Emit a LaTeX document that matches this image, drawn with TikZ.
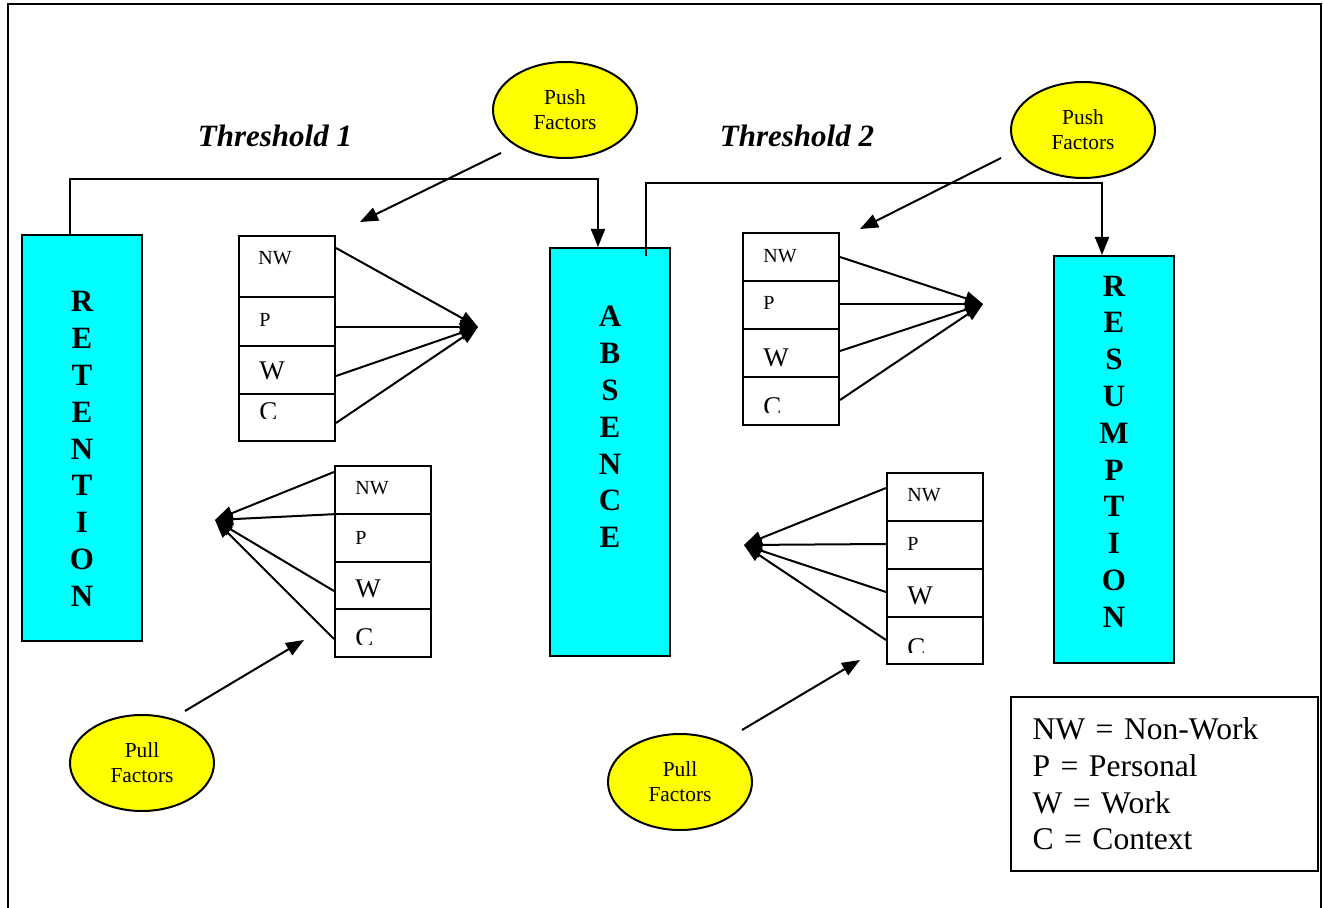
\documentclass[tikz,border=0pt]{standalone}
\usepackage{fontspec}
\setmainfont{Liberation Serif}
\usetikzlibrary{shapes.geometric,arrows.meta}
\definecolor{aqua}{RGB}{0,255,255}
\definecolor{pureyellow}{RGB}{255,255,0}
\begin{document}
\begin{tikzpicture}[x=0.5pt,y=-0.5pt,
  stage/.style={draw, fill=aqua, line width=1pt, minimum width=60pt, inner sep=0pt},
  letters/.style={align=center, inner sep=0pt, font=\bfseries\fontsize{15.5}{18.4}\selectfont},
  thr/.style={inner sep=0pt, font=\bfseries\itshape\fontsize{15.5}{18}\selectfont},
  factor/.style={ellipse, draw, fill=pureyellow, line width=1pt, minimum width=72pt, minimum height=48pt, inner sep=0pt, align=center, font=\fontsize{10.7}{12.5}\selectfont},
  cell/.style={draw, line width=1pt, minimum width=48pt, inner sep=0pt, anchor=north west},
  lab/.style={inner sep=0pt, anchor=west, font=\fontsize{10}{12}\selectfont},
  labbig/.style={inner sep=0pt, font=\fontsize{13.5}{15}\selectfont},
  conn/.style={line width=1pt, -{Triangle[length=9pt,width=7pt]}},
  conv/.style={line width=1pt, -{Triangle[length=9pt,width=7pt]}},
  legendbox/.style={draw, line width=1pt, minimum width=153.5pt, minimum height=87pt, text width=132pt, inner xsep=10.5pt, align=left, font=\fontsize{15.8}{18.3}\selectfont}
]
\useasboundingbox (0,0) rectangle (1323,908);
% frame
\draw[line width=1pt] (8,908) -- (8,4) -- (1321,4) -- (1321,908);

% thresholds
\node[thr] (th1) at (275,136) {Threshold 1};
\node[thr] (th2) at (797,136) {Threshold 2};

% stages
\node[stage, minimum height=203pt] (ret) at (82,438) {};
\node[letters] (retl) at (82,449) {R\\E\\T\\E\\N\\T\\I\\O\\N};
\node[stage, minimum height=204pt] (abs) at (610,452) {};
\node[letters] (absl) at (610,427) {A\\B\\S\\E\\N\\C\\E};
\node[stage, minimum height=203.5pt] (res) at (1114,459.5) {};
\node[letters] (resl) at (1114,451.5) {R\\E\\S\\U\\M\\P\\T\\I\\O\\N};

% stage connectors
\draw[conn] ([xshift=-6pt]ret.north) -- ++(0,-55) -| ([xshift=-6pt]abs.north);
\draw[conn] ([xshift=18pt,yshift=-4.5pt]abs.north) -- ++(0,-73) -| ([xshift=-6pt]res.north);

% factor ellipses
\node[factor] (push1) at (565,110) {Push\\Factors};
\node[factor] (push2) at (1083,130) {Push\\Factors};
\node[factor] (pull1) at (142,763) {Pull\\Factors};
\node[factor] (pull2) at (680,782) {Pull\\Factors};

\coordinate (pu1s) at (501,153); \coordinate (pu1e) at (360,222);
\coordinate (pu2s) at (1001,158); \coordinate (pu2e) at (860,229);
\coordinate (pl1s) at (185,711); \coordinate (pl1e) at (304,640);
\coordinate (pl2s) at (742,730); \coordinate (pl2e) at (860,660);
\draw[conn] (pu1s) -- (pu1e);
\draw[conn] (pu2s) -- (pu2e);
\draw[conn] (pl1s) -- (pl1e);
\draw[conn] (pl2s) -- (pl2e);

% stack 1
\node[cell, minimum height=30.5pt] (s1nw) at (238,235) {};
\node[cell, minimum height=24.5pt] (s1p) at (238,296) {};
\node[cell, minimum height=24pt] (s1w) at (238,345) {};
\node[cell, minimum height=23.5pt] (s1c) at (238,393) {};
\node[lab] (l1nw) at (258,258) {NW};
\node[lab] (l1p) at (259,320) {P};
\node[labbig, anchor=west] (l1w) at (259,371) {W};
\begin{scope}\clip (240,395) rectangle (330,419);
\node[labbig, anchor=north west] (l1c) at (259,402) {C};
\end{scope}
\coordinate (t1) at (478,327);
\draw[conv] ([yshift=-6.5pt]s1nw.north east) -- (t1);
\draw[conv] ([yshift=-15.5pt]s1p.north east) -- (t1);
\draw[conv] ([yshift=-15.5pt]s1w.north east) -- (t1);
\draw[conv] ([yshift=-15pt]s1c.north east) -- (t1);

% stack 2
\node[cell, minimum height=24pt] (s2nw) at (334,465) {};
\node[cell, minimum height=24pt] (s2p) at (334,513) {};
\node[cell, minimum height=23.5pt] (s2w) at (334,561) {};
\node[cell, minimum height=24pt] (s2c) at (334,608) {};
\node[lab] (l2nw) at (355,488) {NW};
\node[lab] (l2p) at (355,538) {P};
\node[labbig, anchor=west] (l2w) at (355,589) {W};
\begin{scope}\clip (336,610) rectangle (428,645);
\node[labbig, anchor=north west] (l2c) at (355,628) {C};
\end{scope}
\coordinate (t2) at (215,520);
\draw[conv] ([yshift=-3.5pt]s2nw.north west) -- (t2);
\draw[conv] ([xshift=2pt,yshift=-0.5pt]s2p.north west) -- (t2);
\draw[conv] ([yshift=-15pt]s2w.north west) -- (t2);
\draw[conv] ([yshift=-15.5pt]s2c.north west) -- (t2);

% stack 3
\node[cell, minimum height=24pt] (s3nw) at (742,232) {};
\node[cell, minimum height=24pt] (s3p) at (742,280) {};
\node[cell, minimum height=24pt] (s3w) at (742,328) {};
\node[cell, minimum height=24pt] (s3c) at (742,376) {};
\node[lab] (l3nw) at (763,256) {NW};
\node[lab] (l3p) at (763,303) {P};
\node[labbig, anchor=west] (l3w) at (763,358) {W};
\begin{scope}\clip (744,378) rectangle (836,413);
\node[labbig, anchor=north west] (l3c) at (763,397) {C};
\end{scope}
\coordinate (t3) at (983,304);
\draw[conv] ([yshift=-12.5pt]s3nw.north east) -- (t3);
\draw[conv] ([yshift=-12pt]s3p.north east) -- (t3);
\draw[conv] ([yshift=-11.5pt]s3w.north east) -- (t3);
\draw[conv] ([yshift=-12pt]s3c.north east) -- (t3);

% stack 4
\node[cell, minimum height=24pt] (s4nw) at (886,472) {};
\node[cell, minimum height=24pt] (s4p) at (886,520) {};
\node[cell, minimum height=24pt] (s4w) at (886,568) {};
\node[cell, minimum height=23.5pt] (s4c) at (886,616) {};
\node[lab] (l4nw) at (907,495) {NW};
\node[lab] (l4p) at (907,544) {P};
\node[labbig, anchor=west] (l4w) at (907,596) {W};
\begin{scope}\clip (888,618) rectangle (980,653);
\node[labbig, anchor=north west] (l4c) at (907,638) {C};
\end{scope}
\coordinate (t4) at (744,545);
\draw[conv] ([yshift=-8pt]s4nw.north west) -- (t4);
\draw[conv] ([yshift=-12pt]s4p.north west) -- (t4);
\draw[conv] ([yshift=-12pt]s4w.north west) -- (t4);
\draw[conv] ([yshift=-12pt]s4c.north west) -- (t4);

% legend
\node[legendbox] (legend) at (1164.5,784) {NW = Non-Work\\P = Personal\\W = Work\\C = Context};
\end{tikzpicture}
\end{document}
